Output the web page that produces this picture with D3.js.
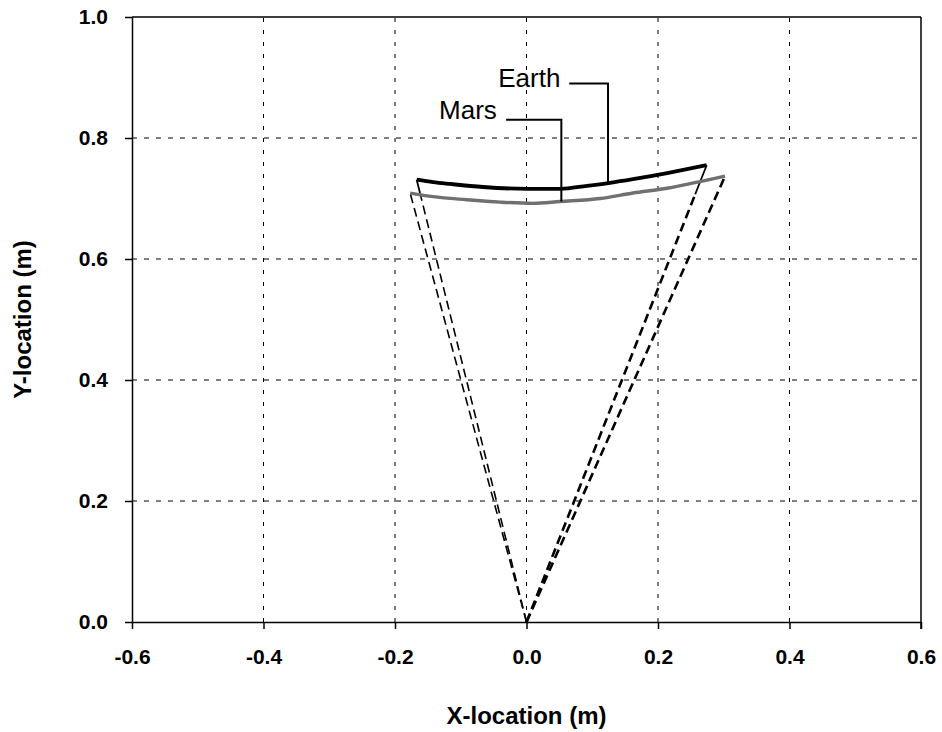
<!DOCTYPE html>
<html>
<head>
<meta charset="utf-8">
<script src="https://cdn.jsdelivr.net/npm/d3@7"></script>
<style>
  body { margin: 0; background: #fff; }
  svg { display: block; font-family: Arial, "Liberation Sans", sans-serif; }
</style>
</head>
<body>
<svg id="chart" width="942" height="732"></svg>
<script>
// Trajectory traced by the bob on Earth and on Mars (X, Y in metres)
const earthX = [-0.167, -0.142, -0.116, -0.066, 0.001, 0.051, 0.092, 0.127, 0.162, 0.214, 0.274];
const earthY = [0.731, 0.727, 0.724, 0.719, 0.716, 0.716, 0.721, 0.726, 0.732, 0.742, 0.755];
const marsX = [-0.177, -0.142, -0.091, -0.040, 0.010, 0.051, 0.112, 0.162, 0.214, 0.264, 0.302];
const marsY = [0.709, 0.703, 0.698, 0.694, 0.692, 0.695, 0.700, 0.709, 0.717, 0.728, 0.737];

// Pivot point of the strings
const pivot = [0, 0];

// Callout labels: text position and leader elbow/end points (data units)
const labelNames = ["Earth", "Mars"];
const labelX = [-0.043, -0.133];
const labelY = [0.885, 0.831];
const leaderStartX = [0.065, -0.031];
const leaderElbowX = [0.124, 0.053];
const leaderElbowY = [0.890, 0.830];
const leaderEndY = [0.725, 0.695];

// Axis ticks
const xTicks = [-0.6, -0.4, -0.2, 0.0, 0.2, 0.4, 0.6];
const yTicks = [0.0, 0.2, 0.4, 0.6, 0.8, 1.0];

const svg = d3.select("#chart");
const margin = { left: 132, top: 17, right: 21, bottom: 110 };
const W = 942, H = 732;
const x = d3.scaleLinear().domain([-0.6, 0.6]).range([margin.left, W - margin.right]);
const y = d3.scaleLinear().domain([0, 1]).range([H - margin.bottom, margin.top]);

// Grid lines
const grid = svg.append("g");
grid.selectAll("line.gx").data(xTicks.slice(1, -1)).join("line")
  .attr("x1", d => x(d)).attr("x2", d => x(d))
  .attr("y1", y(0)).attr("y2", y(1))
  .attr("stroke", "#000").attr("stroke-width", 1).attr("stroke-dasharray", "4,8");
grid.selectAll("line.gy").data(yTicks.slice(1, -1)).join("line")
  .attr("x1", x(-0.6)).attr("x2", x(0.6))
  .attr("y1", d => y(d)).attr("y2", d => y(d))
  .attr("stroke", "#000").attr("stroke-width", 1).attr("stroke-dasharray", "5,7");

// Axes
const fmt = d => d.toFixed(1);
const xAxis = svg.append("g").attr("transform", `translate(0,${y(0)})`)
  .call(d3.axisBottom(x).tickValues(xTicks).tickFormat(fmt).tickSize(7).tickSizeOuter(0));
const yAxis = svg.append("g").attr("transform", `translate(${x(-0.6)},0)`)
  .call(d3.axisLeft(y).tickValues(yTicks).tickFormat(fmt).tickSize(7).tickSizeOuter(0));
[xAxis, yAxis].forEach(a => {
  a.select(".domain").attr("stroke", "#000").attr("stroke-width", 1.5);
  a.selectAll(".tick line").attr("stroke", "#000").attr("stroke-width", 1.5);
  a.selectAll(".tick text").attr("fill", "#000")
    .style("font-family", "Arial, 'Liberation Sans', sans-serif")
    .style("font-size", "21px").style("font-weight", "bold");
});
xAxis.selectAll(".tick text").attr("y", 42).attr("dy", 0);
yAxis.selectAll(".tick text").attr("x", -24);

// Top and right frame
svg.append("line").attr("x1", x(-0.6)).attr("x2", x(0.6)).attr("y1", y(1)).attr("y2", y(1))
  .attr("stroke", "#000").attr("stroke-width", 1.5);
svg.append("line").attr("x1", x(0.6)).attr("x2", x(0.6)).attr("y1", y(1)).attr("y2", y(0) + 7)
  .attr("stroke", "#000").attr("stroke-width", 1.5);

// Axis titles
svg.append("text").attr("x", (x(-0.6) + x(0.6)) / 2).attr("y", 724)
  .attr("text-anchor", "middle").style("font-size", "24px").style("font-weight", "bold")
  .text("X-location (m)");
svg.append("text").attr("transform", `translate(31,${(y(0) + y(1)) / 2}) rotate(-90)`)
  .attr("text-anchor", "middle").style("font-size", "24px").style("font-weight", "bold")
  .text("Y-location (m)");

// Strings from the pivot to the swing extremes
const rays = [
  { end: [marsX[0], marsY[0]], w: 1.6, solidFrom: 1 },
  { end: [earthX[0], earthY[0]], w: 1.6, solidFrom: marsY[0] / earthY[0] },
  { end: [marsX[marsX.length - 1], marsY[marsY.length - 1]], w: 2.6, solidFrom: 1 },
  { end: [earthX[earthX.length - 1], earthY[earthY.length - 1]], w: 2.6, solidFrom: 0.707 / earthY[earthY.length - 1] }
];
rays.forEach(r => {
  const px = pivot[0] + (r.end[0] - pivot[0]) * r.solidFrom;
  const py = pivot[1] + (r.end[1] - pivot[1]) * r.solidFrom;
  svg.append("line")
    .attr("x1", x(pivot[0])).attr("y1", y(pivot[1]))
    .attr("x2", x(px)).attr("y2", y(py))
    .attr("stroke", "#000").attr("stroke-width", r.w).attr("stroke-dasharray", "9,5");
  if (r.solidFrom < 1) {
    svg.append("line")
      .attr("x1", x(px)).attr("y1", y(py))
      .attr("x2", x(r.end[0])).attr("y2", y(r.end[1]))
      .attr("stroke", "#000").attr("stroke-width", 1.8);
  }
});

// Trajectories
const line = d3.line().x(d => x(d[0])).y(d => y(d[1])).curve(d3.curveMonotoneX);
svg.append("path").datum(marsX.map((v, i) => [v, marsY[i]]))
  .attr("d", line).attr("fill", "none").attr("stroke", "#707070").attr("stroke-width", 3.4);
svg.append("path").datum(earthX.map((v, i) => [v, earthY[i]]))
  .attr("d", line).attr("fill", "none").attr("stroke", "#000").attr("stroke-width", 3.8);

// Callouts
labelNames.forEach((name, i) => {
  svg.append("text").attr("x", x(labelX[i])).attr("y", y(labelY[i]))
    .style("font-size", "26px").text(name);
  svg.append("polyline")
    .attr("points", [[x(leaderStartX[i]), y(leaderElbowY[i])],
                     [x(leaderElbowX[i]), y(leaderElbowY[i])],
                     [x(leaderElbowX[i]), y(leaderEndY[i])]].map(p => p.join(",")).join(" "))
    .attr("fill", "none").attr("stroke", "#000").attr("stroke-width", 2);
});
</script>
</body>
</html>
